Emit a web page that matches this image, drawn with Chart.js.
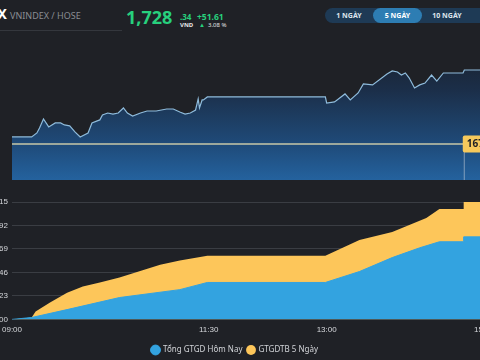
<!DOCTYPE html>
<html>
<head>
<meta charset="utf-8">
<script src="https://cdn.jsdelivr.net/npm/chart.js@4/dist/chart.umd.min.js"></script>
<style>
  html, body { margin:0; padding:0; background:#1f2126; width:480px; height:360px; overflow:hidden; }
  body { position:relative; font-family:"Noto Sans", sans-serif; }
  .abs { position:absolute; white-space:nowrap; line-height:1; }
  #topWrap { position:absolute; left:-14px; top:40px; width:514px; height:140px; }
  #botWrap { position:absolute; left:-14px; top:185px; width:514px; height:179px; }
  .btn { position:absolute; top:0; height:15px; line-height:15px; font-size:7px; font-weight:700; color:#dfe6ee; text-align:center; }
</style>
</head>
<body>
<div class="abs" style="right:473px; top:7px; font-size:14px; font-weight:700; color:#fff;">VNINDEX</div>
<div class="abs" style="left:10px; top:11px; font-size:9px; color:#8a8d93;">VNINDEX / HOSE</div>
<div class="abs" style="left:0; top:30px; width:122px; height:1px; background:#34373d;"></div>

<div class="abs" style="left:126px; top:8px; font-size:18px; font-weight:700; color:#27d07d;">1,728</div>
<div class="abs" style="left:180px; top:13px; font-size:8px; font-weight:700; color:#27d07d;">.34</div>
<div class="abs" style="left:180px; top:22px; font-size:6px; font-weight:700; color:#e6e6e6;">VND</div>
<div class="abs" style="left:197px; top:13px; font-size:8.5px; font-weight:700; color:#27d07d;">+51.61</div>
<div class="abs" style="left:199px; top:22px; font-size:6px; color:#27d07d;">▲</div>
<div class="abs" style="left:208px; top:22px; font-size:6px; color:#e6e6e6;">3.08 %</div>

<div class="abs" style="left:325px; top:8px; width:170px; height:15px; border-radius:8px; background:#1e3a55;">
  <div class="btn" style="left:0; width:48px;">1 NGÀY</div>
  <div class="btn" style="left:48px; width:49px; border-radius:8px; background:#2d7db3; color:#fff;">5 NGÀY</div>
  <div class="btn" style="left:97px; width:50px;">10 NGÀY</div>
</div>

<div id="topWrap"><canvas id="chartPrice"></canvas></div>
<div id="botWrap"><canvas id="chartValue"></canvas></div>

<script>
// ---- DATA (minutes since 09:00) ---- //
const refPrice = 1676.73;

const priceTime = [0, 15, 19, 21, 24, 28, 33, 37, 40, 44, 48, 52, 58, 61, 65, 67, 69, 73, 77, 81, 85, 88, 92, 98,
  103, 110, 118, 123, 128, 132, 136, 140, 142, 143, 145, 146, 149, 239, 240, 246, 254, 258, 264, 268, 275, 286,
  290, 294, 297, 300, 303, 307, 311, 315, 320, 324, 329, 344, 345, 364];
const priceValues = [1681.6, 1681.6, 1684.4, 1687.9, 1694.2, 1688.6, 1691.4, 1691.4, 1690.0, 1689.3, 1685.1, 1681.6,
  1684.4, 1691.4, 1692.8, 1693.5, 1696.9, 1698.3, 1697.6, 1698.3, 1701.8, 1698.3, 1696.2, 1698.3, 1699.7, 1699.7,
  1701.1, 1701.1, 1699.0, 1697.6, 1698.3, 1700.4, 1708.1, 1701.8, 1707.4, 1707.4, 1709.5, 1709.5, 1705.3, 1706.0,
  1711.6, 1707.4, 1712.3, 1718.6, 1717.9, 1725.5, 1727.6, 1726.9, 1724.8, 1726.2, 1722.7, 1715.8, 1717.9, 1719.2,
  1724.8, 1720.6, 1726.2, 1726.2, 1728.3, 1728.3];

const volTime = [15, 20, 25, 30, 35, 40, 45, 50, 55, 60, 65, 70, 75, 80, 85, 90, 95, 100, 105, 110, 115, 120, 125,
  130, 135, 140, 145, 240, 245, 250, 255, 260, 265, 270, 275, 280, 285, 290, 295, 300, 305, 310, 315, 320, 325,
  330, 335, 340, 345];
const volValues = [17, 6, 4, 3, 4, 3, 3, 4, 3, 3, 4, 3, 3, 4, 3, 3, 3, 3, 4, 3, 3, 3, 3, 3, 3, 3, 3, 5, 7, 6, 8, 9,
  10, 8, 10, 9, 8, 7, 8, 9, 10, 11, 8, 9, 7, 6, 5, 4, 28];

const todayTime = [0, 15, 42, 82, 128, 149, 239, 265, 290, 311, 326, 344, 344.5, 362];
const todayValues = [0, 0.5, 2.6, 5.8, 7.9, 9.8, 9.8, 12.7, 16.4, 19.0, 20.6, 20.6, 21.9, 21.9];

const avgTime = [0, 15, 18, 29, 42, 54, 67, 82, 113, 128, 149, 239, 265, 290, 316, 326, 344, 344.5, 362];
const avgValues = [0, 0.5, 2.1, 4.5, 7.1, 8.7, 9.8, 11.1, 14.5, 15.6, 16.9, 16.9, 21.1, 23.2, 26.9, 29.3, 29.3, 31.15, 31.15];

const valueTicks = [0, 6.23, 12.46, 18.69, 24.92, 31.15];
const timeTicks = [0, 150, 240, 360];
const timeLabels = ["09:00", "11:30", "13:00", "15:00"];

const legendNames = ["Tổng GTGD Hôm Nay", "GTGDTB 5 Ngày"];

const zip = (xs, ys) => xs.map((x, i) => ({ x, y: ys[i] }));

// ---- TOP: price area ---- //
const refLabel = {
  id: "refLabel",
  afterDatasetsDraw(chart) {
    const { ctx, scales } = chart;
    const x = scales.x.getPixelForValue(343.8);
    const y = scales.y.getPixelForValue(refPrice);
    ctx.save();
    ctx.strokeStyle = "rgba(210,215,220,0.55)";
    ctx.lineWidth = 1;
    ctx.beginPath();
    ctx.moveTo(x + 1.5, y + 8);
    ctx.lineTo(x + 1.5, chart.chartArea.bottom);
    ctx.stroke();
    ctx.fillStyle = "#f6c95c";
    ctx.beginPath();
    ctx.roundRect(x, y - 8.5, 44, 17, 2);
    ctx.fill();
    ctx.fillStyle = "#1d1f24";
    ctx.font = "bold 10px 'Noto Sans'";
    ctx.textBaseline = "middle";
    ctx.fillText(refPrice.toFixed(2), x + 4, y + 0.5);
    ctx.restore();
  }
};

new Chart(document.getElementById("chartPrice"), {
  type: "line",
  data: {
    datasets: [
      {
        data: [{ x: 0, y: refPrice }, { x: 364, y: refPrice }],
        borderColor: "#c9c8a8", borderWidth: 1.5, pointRadius: 0, fill: false
      },
      {
        data: zip(priceTime, priceValues),
        borderColor: "#8fbcdc", borderWidth: 1.2, pointRadius: 0, tension: 0,
        fill: "start",
        backgroundColor: (c) => {
          const a = c.chart.chartArea;
          if (!a) return "#1d3d62";
          const g = c.chart.ctx.createLinearGradient(0, a.top, 0, a.bottom);
          g.addColorStop(0, "#1a1f29");
          g.addColorStop(0.35, "#1b2e48");
          g.addColorStop(0.75, "#1f4b7a");
          g.addColorStop(1, "#24629e");
          return g;
        }
      },
      {
        type: "bar",
        yAxisID: "yv",
        data: zip(volTime, volValues),
        backgroundColor: "rgba(130,175,220,0.35)",
        barThickness: 1
      }
    ]
  },
  options: {
    responsive: true, maintainAspectRatio: false, animation: false,
    layout: { padding: { left: 26, right: 16, top: 0, bottom: 0 } },
    plugins: { legend: { display: false }, tooltip: { enabled: false } },
    scales: {
      x: { type: "linear", min: 0, max: 360, offset: false, display: false },
      y: { min: 1651.6, max: 1749.2, display: false },
      yv: { min: 0, max: 140, display: false }
    }
  },
  plugins: [refLabel]
});

// ---- BOTTOM: traded value ---- //
new Chart(document.getElementById("chartValue"), {
  type: "line",
  data: {
    datasets: [
      {
        label: legendNames[0],
        data: zip(todayTime, todayValues),
        borderColor: "#33a3e0", backgroundColor: "#33a3e0",
        borderWidth: 1, pointRadius: 0, fill: "origin", tension: 0
      },
      {
        label: legendNames[1],
        data: zip(avgTime, avgValues),
        borderColor: "#fdc65a", backgroundColor: "#fdc65a",
        borderWidth: 0, pointRadius: 0, fill: "origin", tension: 0
      }
    ]
  },
  options: {
    responsive: true, maintainAspectRatio: false, animation: false,
    layout: { padding: { left: 0, right: 16, top: 17, bottom: 0 } },
    plugins: {
      tooltip: { enabled: false },
      legend: {
        position: "bottom",
        labels: {
          color: "#d2d4d8", usePointStyle: true, pointStyle: "circle", boxWidth: 7, boxHeight: 7,
          padding: 5, font: { family: "'Noto Sans'", size: 8 }
        }
      }
    },
    scales: {
      x: {
        type: "linear", min: 0, max: 360,
        afterBuildTicks: (s) => { s.ticks = timeTicks.map(v => ({ value: v })); },
        ticks: {
          color: "#d6d8dc", font: { family: "'Liberation Sans'", size: 8 }, padding: 6, maxRotation: 0,
          callback: (v) => timeLabels[timeTicks.indexOf(v)]
        },
        grid: { display: false, drawTicks: false },
        border: { display: false }
      },
      y: {
        min: 0, max: 31.15,
        afterBuildTicks: (s) => { s.ticks = valueTicks.map(v => ({ value: v })); },
        afterFit: (s) => { s.width = 26; },
        ticks: {
          color: "#d6d8dc", font: { family: "'Liberation Sans'", size: 8 }, padding: 4,
          callback: (v) => v.toFixed(2)
        },
        grid: { color: "#3a3d43", drawTicks: false },
        border: { display: false }
      }
    }
  }
});
</script>
</body>
</html>
